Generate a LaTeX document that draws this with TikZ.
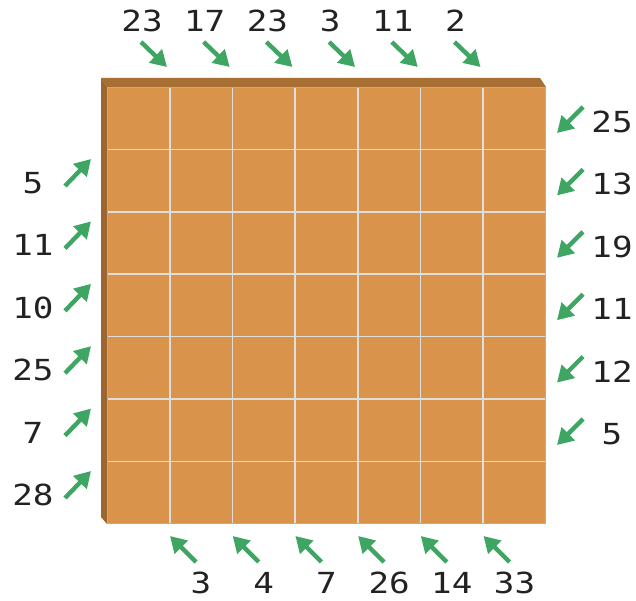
\documentclass[tikz,border=0pt]{standalone}
\usepackage{fontspec}
\newfontfamily\cluefont{DejaVu Sans Mono}[FakeStretch=1.18]
\usetikzlibrary{arrows.meta}
\definecolor{boardface}{HTML}{D9934B}
\definecolor{bevtop}{HTML}{A86F34}
\definecolor{bevleft}{HTML}{9C662F}
\definecolor{gridc}{HTML}{DEDEDE}
\definecolor{arrowc}{HTML}{3FA562}
\definecolor{txt}{HTML}{222222}
\tikzset{
  clue/.style={font=\cluefont\fontsize{29}{32}\selectfont, text=txt, inner sep=0pt},
  hint/.style={draw=arrowc, line width=4.4pt, -{Triangle[length=16pt,width=18pt]}},
}
\begin{document}
\begin{tikzpicture}[x=1pt,y=-1pt]
\useasboundingbox (0,0) rectangle (636,601);
% board bevels
\fill[bevtop] (101,78) -- (540,78) -- (546,87) -- (107,87) -- cycle;
\fill[bevleft] (101,78) -- (107,87) -- (107,524) -- (101,517) -- cycle;
\fill[boardface] (107,87) rectangle (546,524);
\draw[boardface!85!white, line width=0.8pt] (107.4,87.4) rectangle (545.6,523.6);
% grid
\foreach \i in {1,...,6}{
  \draw[gridc, line width=1.6pt] ({107+\i*62.7},88) -- ({107+\i*62.7},523);
  \draw[gridc, line width=1.6pt] (108,{87+\i*62.4}) -- (545,{87+\i*62.4});
}
% top clues
\foreach \v [count=\k] in {23,17,23,3,11,2}{
  \node[clue] (t\k) at ({142+(\k-1)*62.7},21) {\v};
  \coordinate (ts\k) at ({141+(\k-1)*62.7},42);
  \coordinate (te\k) at ({167+(\k-1)*62.7},67);
  \draw[hint] (ts\k) -- (te\k);
}
% left clues
\foreach \v [count=\k] in {5,11,10,25,7,28}{
  \node[clue] (l\k) at (33,{183+(\k-1)*62.4}) {\v};
  \coordinate (ls\k) at (65,{186+(\k-1)*62.4});
  \coordinate (le\k) at (91,{159+(\k-1)*62.4});
  \draw[hint] (ls\k) -- (le\k);
}
% right clues
\foreach \v [count=\k] in {25,13,19,11,12,5}{
  \node[clue] (r\k) at (612,{122+(\k-1)*62.4}) {\v};
  \coordinate (rs\k) at (583,{107+(\k-1)*62.4});
  \coordinate (re\k) at (557,{133+(\k-1)*62.4});
  \draw[hint] (rs\k) -- (re\k);
}
% bottom clues
\foreach \v [count=\k] in {3,4,7,26,14,33}{
  \node[clue] (b\k) at ({201+(\k-1)*62.7},583) {\v};
  \coordinate (bs\k) at ({196+(\k-1)*62.7},562);
  \coordinate (be\k) at ({170+(\k-1)*62.7},536);
  \draw[hint] (bs\k) -- (be\k);
}
\end{tikzpicture}
\end{document}
